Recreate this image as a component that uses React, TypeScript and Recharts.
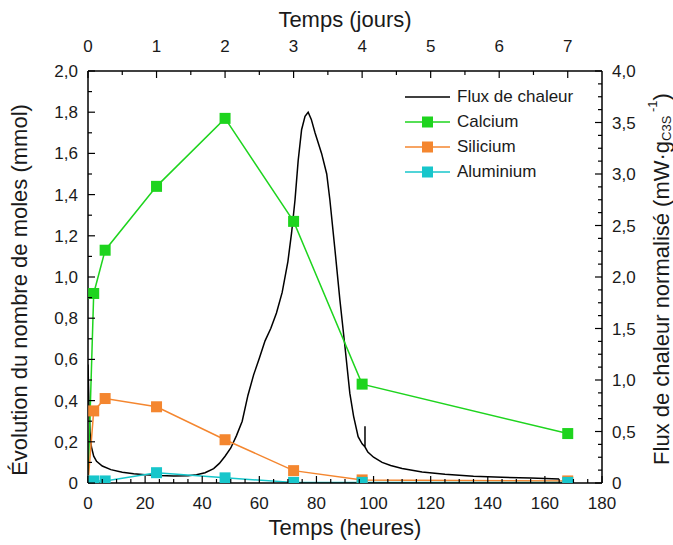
import React from 'react';
import { ComposedChart, Line, XAxis, YAxis, Legend, Label } from 'recharts';

// sampling times (hours) for the ion concentrations
const hours = [0, 2, 6, 24, 48, 72, 96, 168];
const calcium = [0, 0.92, 1.13, 1.44, 1.77, 1.27, 0.48, 0.24];
const silicium = [0, 0.35, 0.41, 0.37, 0.21, 0.06, 0.015, 0.01];
const aluminium = [0, 0.01, 0.01, 0.05, 0.025, 0.003, 0.003, 0.003];

// heat flux curve (right axis, mW/g)
const fluxHours = [
  0, 0.3, 0.7, 1.2, 2, 3, 5, 8, 12, 16, 20, 25, 30, 35, 38, 41, 44, 46, 48, 50,
  52, 54, 56, 58, 60, 62, 64, 66, 68, 70, 71.3, 72.5, 73.6, 74.8, 76, 77.1, 78.2,
  79.5, 81.8, 83.6, 84.7, 86.5, 88.2, 90, 91.7, 93, 94.6, 96, 97, 97, 97, 98, 100,
  103, 106, 110, 117, 125, 135, 145, 155, 165,
];
const fluxValues = [
  1.15, 0.8, 0.5, 0.35, 0.26, 0.21, 0.165, 0.13, 0.105, 0.09, 0.08, 0.072, 0.068,
  0.07, 0.08, 0.1, 0.14, 0.19, 0.26, 0.34, 0.46, 0.6, 0.85, 1.05, 1.21, 1.38, 1.5,
  1.65, 1.85, 2.15, 2.43, 2.75, 3.13, 3.43, 3.56, 3.6, 3.53, 3.4, 3.2, 3.0, 2.75,
  2.26, 1.78, 1.32, 0.87, 0.65, 0.45, 0.38, 0.35, 0.55, 0.35, 0.3, 0.25, 0.2, 0.17,
  0.14, 0.107, 0.085, 0.065, 0.055, 0.048, 0.04,
];

const hourTicks = [0, 5, 10, 15, 20, 25, 30, 35, 40, 45, 50, 55, 60, 65, 70, 75, 80, 85, 90,
  95, 100, 105, 110, 115, 120, 125, 130, 135, 140, 145, 150, 155, 160, 165, 170, 175, 180];
const dayTicks = [0, 12, 24, 36, 48, 60, 72, 84, 96, 108, 120, 132, 144, 156, 168];
const molTicks = [0, 0.1, 0.2, 0.3, 0.4, 0.5, 0.6, 0.7, 0.8, 0.9, 1, 1.1, 1.2, 1.3, 1.4, 1.5,
  1.6, 1.7, 1.8, 1.9, 2];
const fluxTicks = [0, 0.125, 0.25, 0.375, 0.5, 0.625, 0.75, 0.875, 1, 1.125, 1.25, 1.375, 1.5,
  1.625, 1.75, 1.875, 2, 2.125, 2.25, 2.375, 2.5, 2.625, 2.75, 2.875, 3, 3.125, 3.25, 3.375,
  3.5, 3.625, 3.75, 3.875, 4];

const FONT = '"Liberation Sans", Arial, sans-serif';
const TXT = '#1a1a1a';

const series = [
  { name: 'Calcium', color: '#1ED41E', values: calcium },
  { name: 'Silicium', color: '#F4862F', values: silicium },
  { name: 'Aluminium', color: '#17C6CB', values: aluminium },
];

const fluxData = fluxHours.map((t, i) => ({ t, v: fluxValues[i] }));

const fr = (v: number, d: number) => (v === 0 ? '0' : v.toFixed(d).replace('.', ','));

const BottomTick = (props: any) => {
  const { x, y, payload } = props;
  const v = payload.value;
  const major = v % 20 === 0;
  return (
    <g>
      <line x1={x} y1={y} x2={x} y2={y - (major ? 7 : 4)} stroke="#000" strokeWidth={1.2} />
      {major && (
        <text x={x} y={y + 26} textAnchor="middle" fontSize={17} fontFamily={FONT} fill={TXT}>{v}</text>
      )}
    </g>
  );
};

const TopTick = (props: any) => {
  const { x, y, payload } = props;
  const v = payload.value;
  const major = v % 24 === 0;
  return (
    <g>
      <line x1={x} y1={y} x2={x} y2={y + (major ? 7 : 4)} stroke="#000" strokeWidth={1.2} />
      {major && (
        <text x={x} y={y - 19} textAnchor="middle" fontSize={17} fontFamily={FONT} fill={TXT}>{v / 24}</text>
      )}
    </g>
  );
};

const LeftTick = (props: any) => {
  const { x, y, payload } = props;
  const v = payload.value;
  const major = Math.round(v * 10) % 2 === 0;
  return (
    <g>
      <line x1={x} y1={y} x2={x + (major ? 7 : 4)} y2={y} stroke="#000" strokeWidth={1.2} />
      {major && (
        <text x={x - 10} y={y + 6} textAnchor="end" fontSize={17} fontFamily={FONT} fill={TXT}>{fr(v, 1)}</text>
      )}
    </g>
  );
};

const RightTick = (props: any) => {
  const { x, y, payload } = props;
  const v = payload.value;
  const major = Math.round(v * 8) % 4 === 0;
  return (
    <g>
      <line x1={x} y1={y} x2={x - (major ? 7 : 4)} y2={y} stroke="#000" strokeWidth={1.2} />
      {major && (
        <text x={x + 10} y={y + 6} textAnchor="start" fontSize={17} fontFamily={FONT} fill={TXT}>{fr(v, 1)}</text>
      )}
    </g>
  );
};

const square = (color: string) => (p: any) => {
  if (p.cx == null || p.cy == null) return <g key={p.index} />;
  return <rect key={p.index} x={p.cx - 5.5} y={p.cy - 5.5} width={11} height={11} fill={color} />;
};

const renderLegend = () => (
  <div style={{ fontFamily: FONT, fontSize: 17, color: TXT }}>
    <div style={{ display: 'flex', alignItems: 'center', height: 25 }}>
      <svg width={52} height={12}>
        <line x1={0} y1={6} x2={45} y2={6} stroke="#000" strokeWidth={1.5} />
      </svg>
      <span>Flux de chaleur</span>
    </div>
    {series.map((s) => (
      <div key={s.name} style={{ display: 'flex', alignItems: 'center', height: 25 }}>
        <svg width={52} height={12}>
          <line x1={0} y1={6} x2={45} y2={6} stroke={s.color} strokeWidth={1.5} />
          <rect x={17} y={0.5} width={11} height={11} fill={s.color} />
        </svg>
        <span>{s.name}</span>
      </div>
    ))}
  </div>
);

export default function App() {
  return (
    <div style={{ position: 'absolute', left: 0, top: 0 }}>
      <ComposedChart width={673} height={545} margin={{ top: 31, right: 11, bottom: 22, left: 28 }}>
        <XAxis
          xAxisId="bottom"
          dataKey="t"
          type="number"
          domain={[0, 180]}
          allowDataOverflow
          ticks={hourTicks}
          interval={0}
          tick={<BottomTick />}
          tickSize={0}
          tickMargin={0}
          tickLine={false}
          height={40}
          axisLine={{ stroke: '#000', strokeWidth: 1.5 }}
        >
          <Label
            content={({ viewBox }: any) => (
              <text x={viewBox.x + viewBox.width / 2} y={viewBox.y + 52} textAnchor="middle" fontSize={22} fontFamily={FONT} fill={TXT}>
                Temps (heures)
              </text>
            )}
          />
        </XAxis>
        <XAxis
          xAxisId="top"
          orientation="top"
          dataKey="t"
          type="number"
          domain={[0, 180]}
          allowDataOverflow
          ticks={dayTicks}
          interval={0}
          tick={<TopTick />}
          tickSize={0}
          tickMargin={0}
          tickLine={false}
          height={40}
          axisLine={{ stroke: '#000', strokeWidth: 1.5 }}
        >
          <Label
            content={({ viewBox }: any) => (
              <text x={viewBox.x + viewBox.width / 2} y={viewBox.y + viewBox.height - 44} textAnchor="middle" fontSize={22} fontFamily={FONT} fill={TXT}>
                Temps (jours)
              </text>
            )}
          />
        </XAxis>
        <YAxis
          yAxisId="left"
          type="number"
          domain={[0, 2]}
          allowDataOverflow
          ticks={molTicks}
          interval={0}
          tick={<LeftTick />}
          tickSize={0}
          tickMargin={0}
          tickLine={false}
          width={60}
          axisLine={{ stroke: '#000', strokeWidth: 1.5 }}
        >
          <Label
            content={({ viewBox }: any) => {
              const cx = viewBox.x - 9;
              const cy = viewBox.y + viewBox.height / 2 + 13;
              return (
                <text x={cx} y={cy} transform={`rotate(-90, ${cx}, ${cy})`} textAnchor="middle" dominantBaseline="central" fontSize={22} fontFamily={FONT} fill={TXT}>
                  Évolution du nombre de moles (mmol)
                </text>
              );
            }}
          />
        </YAxis>
        <YAxis
          yAxisId="right"
          orientation="right"
          type="number"
          domain={[0, 4]}
          allowDataOverflow
          ticks={fluxTicks}
          interval={0}
          tick={<RightTick />}
          tickSize={0}
          tickMargin={0}
          tickLine={false}
          width={60}
          axisLine={{ stroke: '#000', strokeWidth: 1.5 }}
        >
          <Label
            content={({ viewBox }: any) => {
              const cx = viewBox.x + 59;
              const cy = viewBox.y + viewBox.height / 2 + 2;
              return (
                <text x={cx} y={cy} transform={`rotate(-90, ${cx}, ${cy})`} textAnchor="middle" dominantBaseline="central" fontSize={22} fontFamily={FONT} fill={TXT}>
                  Flux de chaleur normalisé (mW·g
                  <tspan fontSize={13} dy={5}>C3S</tspan>
                  <tspan fontSize={13} dy={-14}> -1</tspan>
                  <tspan dy={9}>)</tspan>
                </text>
              );
            }}
          />
        </YAxis>
        <Legend
          layout="vertical"
          align="center"
          verticalAlign="middle"
          content={renderLegend}
          wrapperStyle={{ left: 405, top: 84, width: 200 }}
        />
        <Line
          xAxisId="bottom"
          yAxisId="right"
          data={fluxData}
          dataKey="v"
          name="Flux de chaleur"
          type="linear"
          stroke="#000"
          strokeWidth={1.5}
          dot={false}
          activeDot={false}
          isAnimationActive={false}
        />
        {series.map((s) => (
          <Line
            key={s.name}
            xAxisId="bottom"
            yAxisId="left"
            data={hours.map((t, i) => ({ t, v: s.values[i] }))}
            dataKey="v"
            name={s.name}
            type="linear"
            stroke={s.color}
            strokeWidth={1.5}
            dot={square(s.color)}
            activeDot={false}
            isAnimationActive={false}
          />
        ))}
      </ComposedChart>
    </div>
  );
}
